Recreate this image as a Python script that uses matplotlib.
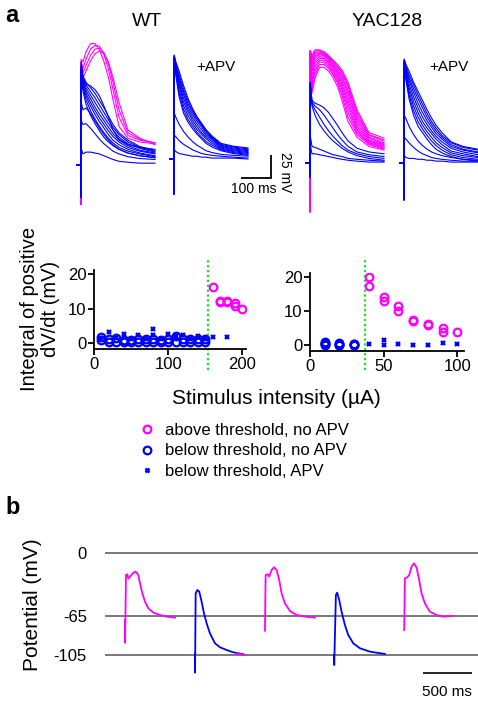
import matplotlib
matplotlib.use("Agg")
import matplotlib.pyplot as plt
from matplotlib.lines import Line2D

plt.rcParams['font.family'] = ['Liberation Sans', 'DejaVu Sans']

W, H = 478, 705
MAG = '#FF00FF'
BLU = '#0000FF'
GRN = '#22DD22'

# ---------------- data: example sweeps (ms, mV relative to baseline) ----------------
T_GRID = [0, 12, 13, 14, 20, 30, 45, 60, 75, 90, 105, 120, 140, 170, 210, 260]

WT_ABOVE = [
    [0, 0, -43, 115, 112, 123, 132, 132, 125, 112, 95, 71, 42, 29, 25, 23],
    [0, 0, -43, 113, 105, 115, 126, 130, 129, 120, 104, 82, 52, 32, 27, 24],
    [0, 0, -43, 112, 100, 108, 119, 126, 127, 122, 110, 90, 60, 35, 28, 24],
    [0, 0, -43, 110, 95, 102, 113, 121, 124, 121, 112, 95, 68, 38, 29, 22],
]
WT_BELOW = [
    [0, 0, -35, 18, 12, 14, 14, 13, 12, 10, 8, 6, 4, 3, 2, 2],
    [0, 0, -35, 48, 44, 45, 40, 34, 28, 23, 19, 15, 12, 9, 7, 6],
    [0, 0, -35, 68, 60, 62, 56, 48, 40, 33, 27, 22, 17, 13, 10, 8],
    [0, 0, -35, 95, 80, 66, 54, 45, 37, 30, 25, 21, 17, 13, 10, 8],
    [0, 0, -35, 98, 84, 71, 59, 50, 42, 35, 29, 24, 19, 15, 12, 9],
    [0, 0, -35, 100, 87, 75, 64, 55, 47, 40, 33, 27, 22, 17, 13, 10],
    [0, 0, -35, 102, 89, 78, 68, 59, 51, 44, 37, 31, 25, 19, 15, 12],
    [0, 0, -35, 104, 91, 81, 72, 63, 55, 48, 41, 34, 27, 21, 16, 13],
    [0, 0, -35, 106, 93, 84, 76, 68, 60, 52, 45, 38, 30, 23, 18, 14],
    [0, 0, -35, 108, 95, 87, 80, 73, 65, 57, 49, 41, 33, 25, 19, 15],
    [0, 0, -35, 110, 97, 90, 84, 78, 70, 62, 53, 44, 35, 27, 20, 16],
    [0, 0, -35, 112, 92, 88, 86, 82, 75, 64, 52, 38, 28, 22, 19, 17],
]
WT_APV = [
    [0, 0, -38, 10, 8, 6, 5, 4, 3, 3, 2, 2, 1, 1, 1, 0],
    [0, 0, -38, 26, 24, 20, 16, 13, 10, 8, 6, 5, 4, 3, 2, 1],
    [0, 0, -38, 50, 45, 38, 30, 24, 19, 15, 12, 9, 7, 5, 4, 3],
    [0, 0, -38, 108, 90, 68, 50, 40, 33, 27, 22, 17, 13, 9, 6, 4],
    [0, 0, -38, 109, 92, 72, 54, 43, 36, 29, 24, 19, 15, 10, 7, 5],
    [0, 0, -38, 110, 94, 76, 58, 47, 39, 32, 27, 22, 17, 11, 8, 6],
    [0, 0, -38, 110, 96, 80, 62, 51, 42, 35, 29, 24, 19, 12, 9, 7],
    [0, 0, -38, 111, 98, 83, 66, 54, 45, 38, 32, 26, 21, 13, 10, 8],
    [0, 0, -38, 111, 100, 86, 70, 57, 48, 41, 35, 28, 22, 14, 11, 9],
    [0, 0, -38, 112, 101, 89, 73, 60, 51, 43, 37, 30, 23, 15, 12, 10],
    [0, 0, -38, 112, 103, 92, 76, 63, 53, 45, 38, 31, 24, 16, 13, 11],
    [0, 0, -38, 113, 105, 96, 80, 66, 55, 46, 39, 32, 25, 17, 14, 12],
]
YAC_ABOVE = [
    [0, 0, -53, 120, 76, 92, 104, 104, 100, 93, 83, 68, 45, 28, 18, 14],
    [0, 0, -53, 120, 80, 96, 107, 107, 103, 96, 87, 73, 50, 31, 20, 15],
    [0, 0, -53, 120, 85, 100, 110, 109, 105, 98, 89, 77, 55, 33, 21, 16],
    [0, 0, -53, 120, 90, 104, 112, 111, 107, 100, 92, 80, 60, 35, 22, 17],
    [0, 0, -53, 121, 95, 108, 114, 113, 109, 102, 94, 83, 64, 37, 23, 18],
    [0, 0, -53, 121, 100, 111, 116, 114, 110, 104, 96, 86, 68, 40, 24, 19],
    [0, 0, -53, 121, 104, 114, 118, 116, 112, 106, 98, 89, 72, 43, 25, 20],
    [0, 0, -53, 121, 107, 116, 119, 117, 113, 107, 100, 92, 76, 46, 27, 21],
    [0, 0, -53, 122, 110, 118, 120, 118, 114, 108, 102, 94, 79, 49, 28, 22],
    [0, 0, -53, 122, 113, 120, 121, 119, 115, 110, 104, 97, 83, 52, 30, 24],
    [0, 0, -53, 122, 115, 122, 122, 120, 116, 111, 105, 99, 85, 55, 31, 25],
    [0, 0, -53, 122, 117, 123, 123, 121, 117, 112, 107, 101, 88, 58, 33, 27],
]
YAC_BELOW = [
    [0, 0, -15, 20, 10, 10, 9, 8, 7, 6, 5, 4, 3, 2, 1, 1],
    [0, 0, -15, 30, 18, 17, 15, 13, 11, 9, 8, 7, 5, 4, 3, 2],
    [0, 0, -15, 87, 62, 52, 42, 35, 29, 24, 20, 16, 12, 8, 5, 3],
    [0, 0, -15, 87, 64, 58, 50, 42, 35, 29, 24, 19, 14, 10, 7, 5],
    [0, 0, -15, 87, 66, 62, 58, 52, 45, 38, 31, 25, 18, 12, 9, 7],
    [0, 0, -15, 87, 68, 65, 63, 60, 55, 48, 41, 33, 24, 16, 12, 10],
]
YAC_APV = [
    [0, 0, -40, 8, 6, 5, 5, 4, 4, 3, 3, 2, 2, 1, 1, 1],
    [0, 0, -40, 28, 26, 22, 17, 13, 10, 8, 6, 5, 4, 3, 2, 2],
    [0, 0, -40, 52, 48, 40, 31, 24, 19, 15, 12, 10, 8, 6, 4, 3],
    [0, 0, -40, 108, 90, 70, 52, 40, 33, 26, 20, 15, 11, 7, 4, 2],
    [0, 0, -40, 109, 92, 74, 57, 45, 37, 30, 24, 19, 14, 9, 6, 4],
    [0, 0, -40, 110, 94, 78, 62, 50, 41, 34, 28, 22, 17, 11, 8, 6],
    [0, 0, -40, 110, 96, 82, 67, 55, 45, 38, 32, 26, 20, 13, 10, 7],
    [0, 0, -40, 111, 99, 86, 72, 60, 50, 42, 35, 29, 23, 16, 12, 9],
    [0, 0, -40, 111, 101, 90, 77, 65, 55, 46, 39, 32, 26, 18, 14, 11],
    [0, 0, -40, 112, 103, 93, 81, 70, 60, 50, 42, 35, 28, 20, 15, 12],
    [0, 0, -40, 112, 105, 96, 85, 74, 64, 54, 45, 38, 30, 22, 17, 14],
    [0, 0, -40, 113, 107, 100, 88, 78, 68, 58, 49, 41, 33, 23, 18, 15],
]

# ---------------- data: scatter ----------------
WT_ABOVE_X = [160, 170, 170, 180, 180, 190, 190, 200]
WT_ABOVE_Y = [16.2, 11.9, 12.1, 12.2, 11.8, 11.6, 10.9, 9.9]
WT_BELOW_X = [10, 20, 30, 40, 50, 60, 70, 80, 90, 100, 110, 120, 130, 140, 150,
              10, 20, 30, 40, 50, 60, 70, 80, 90, 100, 110, 120, 130, 140, 150]
WT_BELOW_Y = [1.8, 1.2, 1.4, 1.0, 0.9, 1.2, 1.1, 1.3, 1.0, 1.3, 2.0, 1.2, 1.1, 1.3, 1.1,
              0.9, 0.3, 0.2, 0.2, 0.3, 0.2, 0.3, 0.2, 0.3, 0.2, 0.3, 0.2, 0.3, 0.2, 0.2]
WT_APV_X = [10, 20, 30, 40, 50, 60, 70, 80, 80, 90, 100, 110, 120, 130, 140, 150, 160, 180]
WT_APV_Y = [1.5, 3.1, 1.5, 2.6, 1.2, 2.3, 1.2, 4.0, 2.3, 1.2, 2.6, 2.2, 2.3, 1.2, 2.0, 1.2, 1.7, 1.7]
WT_THRESHOLD = 154

YAC_ABOVE_X = [40, 40, 50, 50, 60, 60, 70, 70, 80, 80, 90, 90, 100]
YAC_ABOVE_Y = [19.9, 17.4, 14.0, 13.0, 11.4, 10.0, 7.4, 7.0, 6.1, 5.8, 4.9, 3.9, 3.7]
YAC_BELOW_X = [10, 10, 10, 10, 10, 20, 20, 20, 20, 30, 30, 30, 30]
YAC_BELOW_Y = [0.8, 0.4, 0.0, 0.2, 0.6, 0.1, 0.5, 0.0, 0.3, 0.0, 0.4, 0.2, 0.1]
YAC_APV_X = [40, 50, 50, 60, 70, 80, 90, 100]
YAC_APV_Y = [0.2, 1.3, 0.1, 0.2, 0.0, 0.0, 0.5, 0.2]
YAC_THRESHOLD = 37.5

# ---------------- data: panel b sweeps (ms, mV) ----------------
B1_T = [204, 205, 214, 228, 238, 255, 289, 313, 340, 357, 381, 408, 442, 493, 561, 629, 714]
B1_V = [-69, -92.5, -22.7, -21.9, -26.5, -24.4, -20.3, -19.3, -22.7, -31.2, -41.6, -50.2, -57.0, -61.5, -63.9, -65.6, -66.7]
B2_T = [918, 919, 925, 942, 962, 986, 1010, 1037, 1071, 1122, 1173, 1241, 1309, 1411]
B2_V = [-104, -123.4, -41.6, -38.1, -39.9, -50.2, -62.2, -72.5, -82.8, -93.1, -97.2, -100, -102.4, -104.4]
B2M_T = [1343, 1428]
B2M_V = [-104, -105]
B3_T = [1632, 1639, 1659, 1676, 1700, 1724, 1751, 1778, 1802, 1836, 1887, 1955, 2040, 2142]
B3_V = [-80.1, -22.7, -21.9, -24.4, -17.5, -14.7, -17.5, -27.8, -41.6, -51.9, -59.8, -63.9, -65.6, -66.7]
B4_T = [2337, 2339, 2356, 2369, 2390, 2414, 2448, 2482, 2533, 2601, 2703, 2856]
B4_V = [-105, -115.5, -43.3, -40.9, -48.5, -60.5, -74.2, -84.5, -93.1, -98.2, -101.7, -104.1]
B5_T = [3053, 3060, 3084, 3104, 3128, 3152, 3179, 3206, 3230, 3264, 3315, 3383, 3451, 3553]
B5_V = [-79.4, -26.1, -25.1, -22.7, -14.1, -10.6, -14.8, -27.8, -41.6, -51.9, -60.5, -63.9, -65.6, -64.9]
B_LEVELS = [0, -65, -105]

# ---------------- figure ----------------
fig = plt.figure(figsize=(W / 100, H / 100), dpi=100)


def px_axes(x0, y0, x1, y1):
    return fig.add_axes([x0 / W, 1 - y1 / H, (x1 - x0) / W, (y1 - y0) / H])


def fx(x):
    return x / W


def fy(y):
    return 1 - y / H


PX_MS = 0.30
PX_MV = 0.92
T_MAX = 260
V_LO, V_HI = -60, 140


def trace_axes(x_start, y_base):
    ax = px_axes(x_start, y_base - V_HI * PX_MV, x_start + T_MAX * PX_MS, y_base - V_LO * PX_MV)
    ax.set_xlim(0, T_MAX)
    ax.set_ylim(V_LO, V_HI)
    ax.axis('off')
    return ax


def draw_traces(ax, traces, color):
    for v in traces:
        ax.plot(T_GRID, v, color=color, lw=0.8, clip_on=False)


ax_wt = trace_axes(77, 165)
draw_traces(ax_wt, WT_ABOVE, MAG)
draw_traces(ax_wt, WT_BELOW, BLU)
ax_wta = trace_axes(170, 159)
draw_traces(ax_wta, WT_APV, BLU)
ax_yac = trace_axes(306, 163)
draw_traces(ax_yac, YAC_ABOVE, MAG)
draw_traces(ax_yac, YAC_BELOW, BLU)
ax_yaca = trace_axes(400, 163)
draw_traces(ax_yaca, YAC_APV, BLU)

# scale bar (100 ms, 25 mV) drawn in trace coordinates
ax_wta.plot([236, 336, 336], [-21, -21, 4], color='black', lw=1.3, clip_on=False,
            solid_capstyle='butt', solid_joinstyle='miter')
fig.text(fx(285), fy(172), '25 mV', rotation=-90, ha='center', va='center', fontsize=10)
fig.text(fx(254), fy(189), '100 ms', ha='center', va='center', fontsize=10)

fig.text(fx(12), fy(16), 'a', fontsize=17, fontweight='bold', ha='center', va='center')
fig.text(fx(147), fy(21), 'WT', fontsize=14, ha='center', va='center')
fig.text(fx(387), fy(21), 'YAC128', fontsize=14, ha='center', va='center')
fig.text(fx(216), fy(67), '+APV', fontsize=11, ha='center', va='center')
fig.text(fx(449), fy(67), '+APV', fontsize=11, ha='center', va='center')

# ---------------- scatter panels ----------------
circ = dict(marker='o', ms=5.5, mfc='none', mew=1.6, ls='none')
xmk = dict(marker='x', ms=3.5, mew=1.7, ls='none')


def style_scatter(ax):
    for s in ('top', 'right'):
        ax.spines[s].set_visible(False)
    for s in ('left', 'bottom'):
        ax.spines[s].set_linewidth(1.3)
    ax.tick_params(length=4, width=1.3, labelsize=12, pad=1.5)
    ax.set_yticks([0, 10, 20])


ax_s1 = px_axes(94, 270, 246, 349)
ax_s1.set_xlim(0, 205)
ax_s1.set_ylim(-1.7, 21.2)
style_scatter(ax_s1)
ax_s1.set_xticks([0, 100, 200])
ax_s1.plot([WT_THRESHOLD, WT_THRESHOLD], [-7.8, 24.6], color=GRN, lw=1.6,
           ls=(0, (1, 1.2)), clip_on=False, zorder=1)
ax_s1.plot(WT_BELOW_X, WT_BELOW_Y, color=BLU, mec=BLU, **circ)
ax_s1.plot(WT_APV_X, WT_APV_Y, color=BLU, mec=BLU, **xmk)
ax_s1.plot(WT_ABOVE_X, WT_ABOVE_Y, color=MAG, mec=MAG, **circ)

ax_s2 = px_axes(310, 273, 464, 351)
ax_s2.set_xlim(0, 104.5)
ax_s2.set_ylim(-1.8, 21.2)
style_scatter(ax_s2)
ax_s2.set_xticks([0, 50, 100])
ax_s2.plot([YAC_THRESHOLD, YAC_THRESHOLD], [-7.5, 25.2], color=GRN, lw=1.6,
           ls=(0, (1, 1.2)), clip_on=False, zorder=1)
ax_s2.plot(YAC_BELOW_X, YAC_BELOW_Y, color=BLU, mec=BLU, **circ)
ax_s2.plot(YAC_APV_X, YAC_APV_Y, color=BLU, mec=BLU, **xmk)
ax_s2.plot(YAC_ABOVE_X, YAC_ABOVE_Y, color=MAG, mec=MAG, **circ)

fig.text(fx(40), fy(309), 'Integral of positive\ndV/dt (mV)', rotation=90, ha='center',
         va='center', fontsize=14.5, linespacing=1.15, multialignment='center')
fig.text(fx(276), fy(398), 'Stimulus intensity (\u00b5A)', ha='center', va='center', fontsize=15)

handles = [
    Line2D([], [], color=MAG, mec=MAG, marker='o', ms=5.5, mfc='none', mew=1.6, ls='none'),
    Line2D([], [], color=BLU, mec=BLU, marker='o', ms=5.5, mfc='none', mew=1.6, ls='none'),
    Line2D([], [], color=BLU, mec=BLU, marker='x', ms=3.5, mew=1.8, ls='none'),
]
labels = ['above threshold, no APV', 'below threshold, no APV', 'below threshold, APV']
fig.legend(handles, labels, loc='upper left', bbox_to_anchor=(fx(139), fy(423)),
           frameon=False, fontsize=12, handlelength=1.0, handletextpad=0.55,
           labelspacing=0.32, borderpad=0, borderaxespad=0)

# ---------------- panel b ----------------
PX_PER_MS_B = 49 / 500
PX_PER_MV_B = 0.97
ax_b = px_axes(105, 540, 478, 690)
ax_b.set_xlim(0, (478 - 105) / PX_PER_MS_B)
ax_b.set_ylim(-(690 - 553) / PX_PER_MV_B, (553 - 540) / PX_PER_MV_B)
for s in ax_b.spines.values():
    s.set_visible(False)
ax_b.set_xticks([])
ax_b.set_yticks(B_LEVELS)
ax_b.set_yticklabels([str(v) for v in B_LEVELS])
ax_b.tick_params(axis='y', length=0, pad=13, labelsize=12)
for lv in B_LEVELS:
    ax_b.axhline(lv, color='#555555', lw=1.1, zorder=1)
ax_b.plot(B1_T, B1_V, color=MAG, lw=1.3, zorder=3)
ax_b.plot(B2_T, B2_V, color=BLU, lw=1.3, zorder=3)
ax_b.plot(B2M_T, B2M_V, color=MAG, lw=1.3, zorder=3)
ax_b.plot(B3_T, B3_V, color=MAG, lw=1.3, zorder=3)
ax_b.plot(B4_T, B4_V, color=BLU, lw=1.3, zorder=3)
ax_b.plot(B5_T, B5_V, color=MAG, lw=1.3, zorder=3)
ax_b.plot([3245, 3745], [-123.7, -123.7], color='black', lw=1.2, clip_on=False,
          solid_capstyle='butt')
fig.text(fx(447), fy(692), '500 ms', ha='center', va='center', fontsize=11)
fig.text(fx(33), fy(605), 'Potential (mV)', rotation=90, ha='center', va='center', fontsize=15)
fig.text(fx(13), fy(507), 'b', fontsize=17, fontweight='bold', ha='center', va='center')

fig.savefig('out.png', dpi=100)
